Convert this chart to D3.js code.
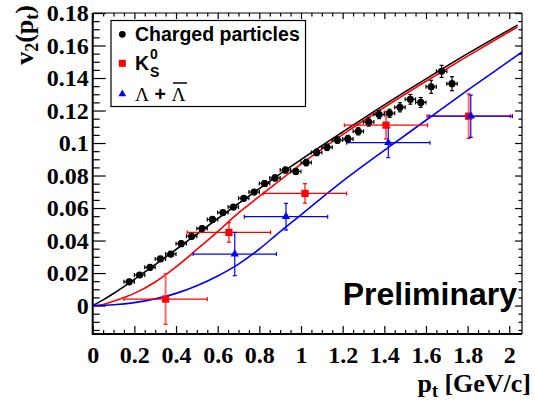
<!DOCTYPE html>
<html>
<head>
<meta charset="utf-8">
<script src="https://cdn.jsdelivr.net/npm/d3@7"></script>
<style>
  body { margin: 0; background: #fff; }
  svg { display: block; }
</style>
</head>
<body>
<div id="chart"></div>
<script>
// charged particles v2(pt)
const chPt = [0.175, 0.225, 0.275, 0.325, 0.375, 0.425, 0.475, 0.525, 0.575, 0.625,
              0.675, 0.725, 0.775, 0.825, 0.875, 0.925, 0.975, 1.025, 1.075, 1.125,
              1.175, 1.225, 1.275, 1.325, 1.375, 1.425, 1.475, 1.525, 1.575, 1.625,
              1.675, 1.725];
const chV2 = [0.0146, 0.0188, 0.0235, 0.0287, 0.0317, 0.0381, 0.0426, 0.0474, 0.0530, 0.0572,
              0.0606, 0.0660, 0.0698, 0.0751, 0.0785, 0.0834, 0.0825, 0.0880, 0.0942, 0.0974,
              0.1018, 0.1025, 0.1072, 0.1129, 0.1175, 0.1183, 0.1220, 0.1269, 0.1250, 0.1346,
              0.1441, 0.1365];
const chEy = [0.0015, 0.0015, 0.0015, 0.0015, 0.0015, 0.0015, 0.0015, 0.0015, 0.0015, 0.0015,
              0.0015, 0.0015, 0.0015, 0.0018, 0.0018, 0.0018, 0.0018, 0.002, 0.002, 0.002,
              0.002, 0.0022, 0.0022, 0.0025, 0.0025, 0.0025, 0.0028, 0.003, 0.003, 0.004,
              0.0037, 0.0043];
const chEx = 0.025;

// K0s
const k0Pt = [0.35, 0.654, 1.019, 1.408, 1.805];
const k0V2 = [0.004, 0.045, 0.069, 0.111, 0.1165];
const k0Ey = [0.0155, 0.006, 0.006, 0.0085, 0.0137];
const k0Ex = [0.2, 0.2, 0.2, 0.2, 0.2];

// Lambda + anti-Lambda
const lamPt = [0.682, 0.928, 1.419, 1.815];
const lamV2 = [0.0317, 0.0547, 0.1002, 0.1165];
const lamEy = [0.0133, 0.0082, 0.0092, 0.013];
const lamEx = [0.2, 0.2, 0.2, 0.2];

// model curves
const curvePt = [0, 0.05, 0.1, 0.15, 0.2, 0.3, 0.4, 0.5, 0.6, 0.7, 0.8, 0.9, 1.0, 1.2, 1.4, 1.6, 1.8, 2.04];
const blackCurve = [0, 0.0035, 0.0074, 0.0117, 0.0161, 0.0252, 0.0345, 0.0440, 0.0535, 0.0628,
                    0.0720, 0.0810, 0.0898, 0.1068, 0.1235, 0.1395, 0.1550, 0.1726];
const redCurve = [0, 0.0007, 0.0027, 0.005, 0.0075, 0.0145, 0.0238, 0.0345, 0.0455, 0.0570,
                  0.0672, 0.0772, 0.0870, 0.1052, 0.1220, 0.1380, 0.1535, 0.1715];
const bluePt = [0, 0.1, 0.2, 0.3, 0.4, 0.5, 0.6, 0.7, 0.8, 0.9, 1.0, 1.2, 1.4, 1.6, 1.8, 2.0, 2.061];
const blueCurve = [0, 0.0005, 0.0018, 0.0041, 0.0075, 0.0122, 0.0182, 0.0255, 0.0348, 0.0455,
                   0.0558, 0.0765, 0.0955, 0.1140, 0.1325, 0.1505, 0.1560];

const xMajor = [0, 0.2, 0.4, 0.6, 0.8, 1.0, 1.2, 1.4, 1.6, 1.8, 2.0];
const xLabels = ["0", "0.2", "0.4", "0.6", "0.8", "1", "1.2", "1.4", "1.6", "1.8", "2"];
const yMajor = [0, 0.02, 0.04, 0.06, 0.08, 0.1, 0.12, 0.14, 0.16, 0.18];
const yLabels = ["0", "0.02", "0.04", "0.06", "0.08", "0.1", "0.12", "0.14", "0.16", "0.18"];

const width = 535, height = 402,
    margin = {top: 13, right: 13, bottom: 68, left: 92.7};

const x = d3.scaleLinear()
    .domain([0, 2.061])
    .range([margin.left, width - margin.right]);
const y = d3.scaleLinear()
    .domain([-0.0175, 0.18])
    .range([height - margin.bottom, margin.top]);

const xMinor = d3.range(0, 41).map(i => i * 0.05).filter(v => v <= 2.061 && !xMajor.some(m => Math.abs(m - v) < 1e-6));
const yMinor = d3.range(-3, 37).map(i => i * 0.005).filter(v => v >= -0.0175 && v <= 0.18 && !yMajor.some(m => Math.abs(m - v) < 1e-6));

const svg = d3.select("#chart")
    .append("svg")
    .attr("width", width)
    .attr("height", height);

const serif = "'Liberation Serif', 'Times New Roman', serif";
const sans = "'Liberation Sans', Arial, Helvetica, sans-serif";

function styleAxis(g) {
    g.select(".domain").remove();
    g.selectAll(".tick line").attr("stroke", "#000").attr("stroke-width", 1.2);
    g.selectAll("text")
        .attr("fill", "#000")
        .style("font-family", serif)
        .style("font-weight", "bold")
        .style("font-size", "24px");
}

// bottom axis
svg.append("g")
    .attr("transform", `translate(0, ${y.range()[0]})`)
    .call(d3.axisBottom(x).tickValues(xMajor).tickFormat((d, i) => xLabels[i])
        .tickSizeInner(-8).tickSizeOuter(0).tickPadding(12))
    .call(styleAxis);
svg.append("g")
    .attr("transform", `translate(0, ${y.range()[0]})`)
    .call(d3.axisBottom(x).tickValues(xMinor).tickFormat("").tickSizeInner(-4).tickSizeOuter(0))
    .call(styleAxis);

// top axis
svg.append("g")
    .attr("transform", `translate(0, ${margin.top})`)
    .call(d3.axisTop(x).tickValues(xMajor).tickFormat("").tickSizeInner(-6).tickSizeOuter(0))
    .call(styleAxis);
svg.append("g")
    .attr("transform", `translate(0, ${margin.top})`)
    .call(d3.axisTop(x).tickValues(xMinor).tickFormat("").tickSizeInner(-3.5).tickSizeOuter(0))
    .call(styleAxis);

// left axis
svg.append("g")
    .attr("transform", `translate(${margin.left}, 0)`)
    .call(d3.axisLeft(y).tickValues(yMajor).tickFormat((d, i) => yLabels[i])
        .tickSizeInner(-13).tickSizeOuter(0).tickPadding(4))
    .call(styleAxis);
svg.append("g")
    .attr("transform", `translate(${margin.left}, 0)`)
    .call(d3.axisLeft(y).tickValues(yMinor).tickFormat("").tickSizeInner(-7).tickSizeOuter(0))
    .call(styleAxis);

// right axis
svg.append("g")
    .attr("transform", `translate(${x.range()[1]}, 0)`)
    .call(d3.axisRight(y).tickValues(yMajor).tickFormat("").tickSizeInner(-7).tickSizeOuter(0))
    .call(styleAxis);
svg.append("g")
    .attr("transform", `translate(${x.range()[1]}, 0)`)
    .call(d3.axisRight(y).tickValues(yMinor).tickFormat("").tickSizeInner(-3.5).tickSizeOuter(0))
    .call(styleAxis);

// frame
const x0 = x.range()[0], x1 = x.range()[1], y0 = y.range()[0], y1 = y.range()[1];
svg.append("line").attr("x1", x0).attr("x2", x1).attr("y1", y0).attr("y2", y0).attr("stroke", "#000").attr("stroke-width", 2);
svg.append("line").attr("x1", x0).attr("x2", x0).attr("y1", y0 + 1).attr("y2", y1).attr("stroke", "#000").attr("stroke-width", 2);
svg.append("line").attr("x1", x0).attr("x2", x1).attr("y1", y1).attr("y2", y1).attr("stroke", "#000").attr("stroke-width", 1.2);
svg.append("line").attr("x1", x1).attr("x2", x1).attr("y1", y0).attr("y2", y1).attr("stroke", "#000").attr("stroke-width", 1.2);

// curves
const line = d3.line().curve(d3.curveMonotoneX).x(d => x(d[0])).y(d => y(d[1]));
svg.append("path").datum(curvePt.map((p, i) => [p, blackCurve[i]]))
    .attr("d", line).attr("fill", "none").attr("stroke", "#000").attr("stroke-width", 1.6);
svg.append("path").datum(curvePt.map((p, i) => [p, redCurve[i]]))
    .attr("d", line).attr("fill", "none").attr("stroke", "#f00").attr("stroke-width", 1.6);
svg.append("path").datum(bluePt.map((p, i) => [p, blueCurve[i]]))
    .attr("d", line).attr("fill", "none").attr("stroke", "#00f").attr("stroke-width", 1.6);

// error bars
function errorBars(pts, v2s, exs, eys, hColor, vColor, vWidth) {
    const g = svg.append("g");
    pts.forEach((p, i) => {
        const cx = x(p), cy = y(v2s[i]);
        const xl = x(p - exs[i]), xr = x(p + exs[i]);
        const yt = y(v2s[i] + eys[i]), yb = y(v2s[i] - eys[i]);
        g.append("line").attr("x1", xl).attr("x2", xr).attr("y1", cy).attr("y2", cy)
            .attr("stroke", hColor).attr("stroke-width", 1.2);
        g.append("line").attr("x1", xl).attr("x2", xl).attr("y1", cy - 2).attr("y2", cy + 2)
            .attr("stroke", hColor).attr("stroke-width", 1.2);
        g.append("line").attr("x1", xr).attr("x2", xr).attr("y1", cy - 2).attr("y2", cy + 2)
            .attr("stroke", hColor).attr("stroke-width", 1.2);
        g.append("line").attr("x1", cx).attr("x2", cx).attr("y1", yt).attr("y2", yb)
            .attr("stroke", vColor).attr("stroke-width", vWidth);
        g.append("line").attr("x1", cx - 2).attr("x2", cx + 2).attr("y1", yt).attr("y2", yt)
            .attr("stroke", hColor).attr("stroke-width", 1.2);
        g.append("line").attr("x1", cx - 2).attr("x2", cx + 2).attr("y1", yb).attr("y2", yb)
            .attr("stroke", hColor).attr("stroke-width", 1.2);
    });
}

errorBars(chPt, chV2, chPt.map(() => chEx), chEy, "#000", "#000", 1.2);
errorBars(k0Pt, k0V2, k0Ex, k0Ey, "#f00", "#ff6a6a", 2);
errorBars(lamPt, lamV2, lamEx, lamEy, "#00f", "#00f", 1.2);

// markers
svg.append("g").selectAll("circle")
    .data(chPt.map((p, i) => [p, chV2[i]]))
    .join("circle")
    .attr("cx", d => x(d[0])).attr("cy", d => y(d[1])).attr("r", 3.6)
    .attr("fill", "#000");

svg.append("g").selectAll("rect")
    .data(k0Pt.map((p, i) => [p, k0V2[i]]))
    .join("rect")
    .attr("x", d => x(d[0]) - 3.6).attr("y", d => y(d[1]) - 3.6)
    .attr("width", 7.2).attr("height", 7.2)
    .attr("fill", "#f00");

const tri = d3.symbol().type(d3.symbolTriangle).size(30);
svg.append("g").selectAll("path")
    .data(lamPt.map((p, i) => [p, lamV2[i]]))
    .join("path")
    .attr("transform", d => `translate(${x(d[0])}, ${y(d[1])})`)
    .attr("d", tri)
    .attr("fill", "#00f");

// legend
const leg = svg.append("g");
leg.append("rect")
    .attr("x", 111).attr("y", 20.5).attr("width", 194.5).attr("height", 86)
    .attr("fill", "#fff").attr("stroke", "#000").attr("stroke-width", 1.2);
leg.append("circle").attr("cx", 122.3).attr("cy", 34.3).attr("r", 3.4).attr("fill", "#000");
leg.append("text").attr("x", 135).attr("y", 41)
    .style("font-family", sans).style("font-weight", "bold").style("font-size", "19.5px")
    .text("Charged particles");
leg.append("rect").attr("x", 118.8).attr("y", 59.8).attr("width", 7).attr("height", 7).attr("fill", "#f00");
const kText = leg.append("text").attr("x", 135).attr("y", 70)
    .style("font-family", sans).style("font-weight", "bold").style("font-size", "19.5px");
kText.append("tspan").text("K");
kText.append("tspan").attr("x", 150).attr("y", 59).style("font-size", "14px").text("0");
kText.append("tspan").attr("x", 150).attr("y", 77).style("font-size", "14px").text("S");
leg.append("path").attr("transform", "translate(122.3, 94)")
    .attr("d", d3.symbol().type(d3.symbolTriangle).size(26)).attr("fill", "#00f");
const lText = leg.append("text").attr("x", 135).attr("y", 101)
    .style("font-size", "19.5px");
lText.append("tspan").style("font-family", serif).text("Λ");
lText.append("tspan").style("font-family", sans).style("font-weight", "bold").text(" + ");
lText.append("tspan").style("font-family", serif).text("Λ");
leg.append("line").attr("x1", 173).attr("x2", 187).attr("y1", 83).attr("y2", 83)
    .attr("stroke", "#000").attr("stroke-width", 1.5);

// Preliminary
svg.append("text")
    .attr("x", 517).attr("y", 305)
    .attr("text-anchor", "end")
    .style("font-family", sans).style("font-weight", "bold").style("font-size", "32px")
    .text("Preliminary");

// axis titles
const xt = svg.append("text")
    .attr("x", 531).attr("y", 392)
    .attr("text-anchor", "end")
    .style("font-family", serif).style("font-weight", "bold").style("font-size", "26px");
xt.append("tspan").text("p");
xt.append("tspan").attr("dy", 5).style("font-size", "18px").text("t");
xt.append("tspan").attr("dy", -5).text(" [GeV/c]");

const yt = svg.append("text")
    .attr("transform", "translate(33, 5) rotate(-90)")
    .attr("text-anchor", "end")
    .style("font-family", serif).style("font-weight", "bold").style("font-size", "26px");
yt.append("tspan").text("v");
yt.append("tspan").attr("dy", 5).style("font-size", "18px").text("2");
yt.append("tspan").attr("dy", -5).text("(p");
yt.append("tspan").attr("dy", 5).style("font-size", "18px").text("t");
yt.append("tspan").attr("dy", -5).text(")");
</script>
</body>
</html>
